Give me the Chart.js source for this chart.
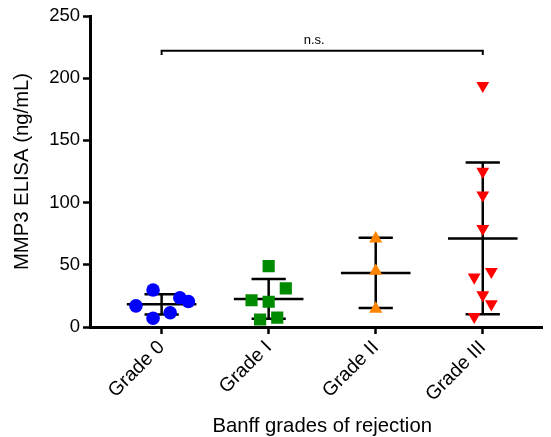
<!DOCTYPE html>
<html>
<head>
<meta charset="utf-8">
<script src="https://cdn.jsdelivr.net/npm/chart.js@4/dist/chart.umd.min.js"></script>
<style>
  html, body { margin: 0; padding: 0; background: #fff; }
  #wrap { width: 551px; height: 437px; }
</style>
</head>
<body>
<div id="wrap"><canvas id="c" width="551" height="437"></canvas></div>
<script>
// ---- data ----
const categories = ['Grade 0', 'Grade I', 'Grade II', 'Grade III'];
const yTicks = [0, 50, 100, 150, 200, 250];
const xTitle = 'Banff grades of rejection';
const yTitle = 'MMP3 ELISA (ng/mL)';

const grade0Values = [29.7, 23.5, 20.5, 17.0, 11.5, 7.0];
const grade0Jitter = [-0.08, 0.17, 0.25, -0.24, 0.08, -0.08];

const grade1Values = [49.0, 31.0, 21.5, 20.3, 6.0, 7.5];
const grade1Jitter = [0.0, 0.16, -0.16, 0.0, -0.08, 0.08];

const grade2Values = [71.0, 45.0, 14.5];
const grade2Jitter = [0.0, 0.0, 0.0];

const grade3Values = [194.0, 125.0, 106.0, 79.0, 40.0, 44.5, 25.7, 18.5, 8.3];
const grade3Jitter = [0.0, 0.0, 0.0, 0.0, -0.08, 0.08, 0.0, 0.08, -0.08];

const bracketFrom = 0, bracketTo = 3;
const bracketY = 222, bracketDrop = 3.4;
const bracketLabel = 'n.s.';

// ---- helpers ----
const groups = [
  {values: grade0Values, jitter: grade0Jitter, color: '#0000ff', style: 'circle', radius: 6.8, rotation: 0},
  {values: grade1Values, jitter: grade1Jitter, color: '#008a00', style: 'rect', radius: 8.6, rotation: 0},
  {values: grade2Values, jitter: grade2Jitter, color: '#ff8400', style: 'triangle', radius: 7.6, rotation: 0},
  {values: grade3Values, jitter: grade3Jitter, color: '#ff0000', style: 'triangle', radius: 7.4, rotation: 180}
];
function mean(a) { return a.reduce((s, v) => s + v, 0) / a.length; }
function sd(a) { const m = mean(a); return Math.sqrt(a.reduce((s, v) => s + (v - m) * (v - m), 0) / (a.length - 1)); }

const meanHalf = 0.325, capHalf = 0.16;
const errData = [];
groups.forEach((g, i) => {
  const m = mean(g.values), s = sd(g.values);
  errData.push({x: i - meanHalf, y: m}, {x: i + meanHalf, y: m}, {x: i, y: null});
  errData.push({x: i, y: m - s}, {x: i, y: m + s}, {x: i, y: null});
  errData.push({x: i - capHalf, y: m + s}, {x: i + capHalf, y: m + s}, {x: i, y: null});
  errData.push({x: i - capHalf, y: m - s}, {x: i + capHalf, y: m - s}, {x: i, y: null});
});
const bracketData = [
  {x: bracketFrom, y: bracketY - bracketDrop}, {x: bracketFrom, y: bracketY},
  {x: bracketTo, y: bracketY}, {x: bracketTo, y: bracketY - bracketDrop}
];

const datasets = groups.map((g, i) => ({
  label: categories[i],
  data: g.values.map((v, k) => ({x: i + g.jitter[k], y: v})),
  showLine: false,
  pointStyle: g.style,
  pointRadius: g.radius,
  pointRotation: g.rotation,
  pointBackgroundColor: g.color,
  pointBorderWidth: 0,
  pointBorderColor: g.color,
  order: 0
}));
datasets.push({
  label: 'mean ± SD',
  data: errData,
  showLine: true,
  spanGaps: false,
  borderColor: '#000',
  borderWidth: 2.5,
  pointRadius: 0,
  borderCapStyle: 'butt',
  order: 5
});
datasets.push({
  label: 'bracket',
  data: bracketData,
  showLine: true,
  borderColor: '#000',
  borderWidth: 2,
  pointRadius: 0,
  borderJoinStyle: 'miter',
  order: 5
});

const FONT = '"Liberation Sans", Arial, Helvetica, sans-serif';
const labelPlugin = {
  id: 'textLabels',
  afterDatasetsDraw(chart) {
    const {ctx, scales} = chart;
    ctx.save();
    ctx.fillStyle = '#000';
    // significance label
    ctx.font = '13px ' + FONT;
    ctx.textAlign = 'center';
    ctx.textBaseline = 'alphabetic';
    ctx.fillText(bracketLabel,
      scales.x.getPixelForValue((bracketFrom + bracketTo) / 2) - 8,
      scales.y.getPixelForValue(bracketY) - 7);
    // x axis title, centred on the category ticks
    ctx.font = '20.3px ' + FONT;
    const cx = (scales.x.getPixelForValue(0) + scales.x.getPixelForValue(categories.length - 1)) / 2;
    ctx.fillText(xTitle, cx, scales.x.bottom - 5);
    ctx.restore();
  }
};

Chart.defaults.font.family = FONT;
Chart.defaults.color = '#000';

new Chart(document.getElementById('c'), {
  type: 'scatter',
  data: {datasets},
  plugins: [labelPlugin],
  options: {
    responsive: false,
    animation: false,
    events: [],
    layout: {padding: {top: 16, right: 6, bottom: 0, left: 0}},
    plugins: {legend: {display: false}, tooltip: {enabled: false}},
    scales: {
      x: {
        type: 'linear',
        min: -0.669,
        max: 3.557,
        afterBuildTicks: (s) => { s.ticks = categories.map((c, i) => ({value: i})); },
        afterFit: (s) => { s.height = 110; },
        ticks: {
          callback: (v) => categories[v],
          minRotation: 45,
          maxRotation: 45,
          autoSkip: false,
          padding: 2,
          font: {size: 19.5}
        },
        grid: {display: true, drawOnChartArea: false, drawTicks: true, tickLength: 7, tickWidth: 2.5, tickColor: '#000'},
        border: {display: true, width: 3, color: '#000'},
        title: {display: false}
      },
      y: {
        min: 0,
        max: 250,
        afterBuildTicks: (s) => { s.ticks = yTicks.map(v => ({value: v})); },
        afterFit: (s) => { s.width = 90; },
        ticks: {padding: 3, font: {size: 18.5}},
        grid: {display: true, drawOnChartArea: false, drawTicks: true, tickLength: 7, tickWidth: 2.5, tickColor: '#000'},
        border: {display: true, width: 3, color: '#000'},
        title: {display: true, text: yTitle, font: {size: 20.3}, padding: {top: 10, bottom: 0}}
      }
    }
  }
});
</script>
</body>
</html>
